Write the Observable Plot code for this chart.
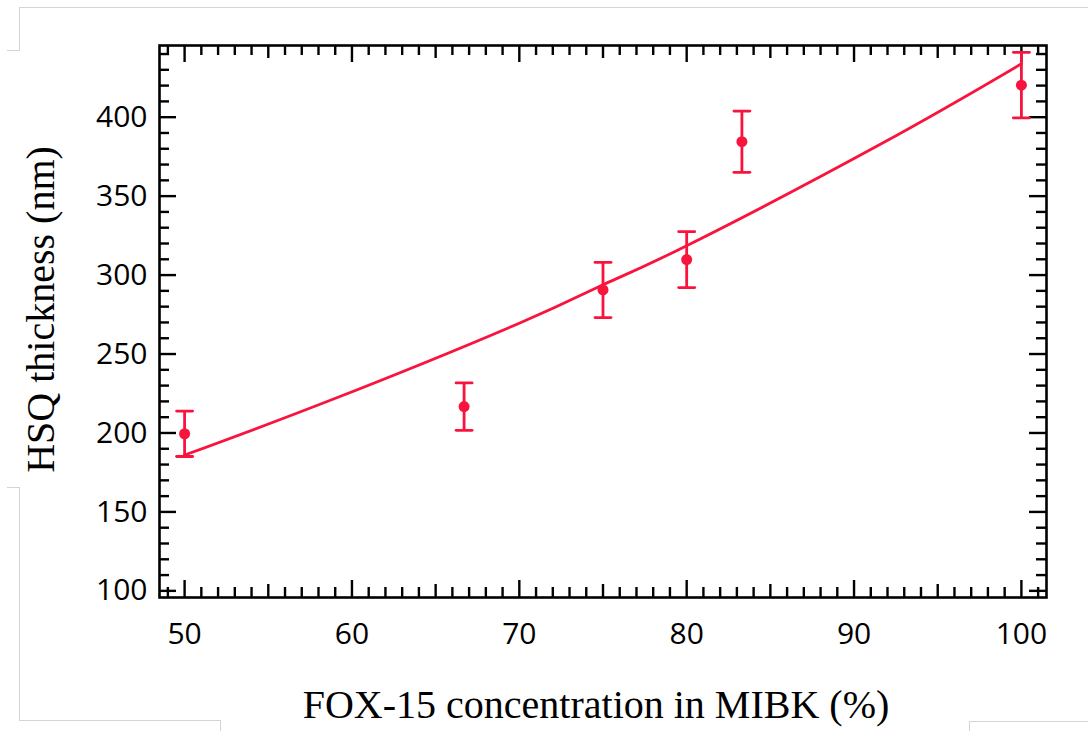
<!DOCTYPE html>
<html>
<head>
<meta charset="utf-8">
<script src="https://cdn.jsdelivr.net/npm/d3@7"></script>
<script src="https://cdn.jsdelivr.net/npm/@observablehq/plot@0.6"></script>
<style>
  html, body { margin: 0; padding: 0; background: #fff; }
  #wrap { position: relative; width: 1088px; height: 731px; overflow: hidden; }
  .edge { position: absolute; background: #d4d4d4; }
</style>
</head>
<body>
<div id="wrap">
  <div class="edge" style="left:19px;top:7px;width:1069px;height:1px"></div>
  <div class="edge" style="left:19px;top:7px;width:1px;height:44px"></div>
  <div class="edge" style="left:7px;top:50px;width:13px;height:1px"></div>
  <div class="edge" style="left:7px;top:487px;width:13px;height:1px"></div>
  <div class="edge" style="left:19px;top:487px;width:1px;height:234px"></div>
  <div class="edge" style="left:19px;top:720px;width:202px;height:1px"></div>
  <div class="edge" style="left:220px;top:720px;width:1px;height:11px"></div>
  <div class="edge" style="left:969px;top:721px;width:119px;height:1px"></div>
  <div class="edge" style="left:969px;top:721px;width:1px;height:10px"></div>
</div>
<script>
// ---- data ----
const concentration = [50, 66.7, 75, 80, 83.3, 100];          // FOX-15 in MIBK (%)
const thickness     = [199.5, 216.7, 290.6, 309.8, 384.5, 420.3]; // HSQ thickness (nm)
const errorNm       = [14.4, 15.0, 17.5, 17.7, 19.4, 20.8];

// fitted curve, points
const fitX = [50, 58.9, 70.1, 75, 80, 91.6, 100];
const fitY = [186, 221.5, 270, 293.9, 318.6, 383, 433.8];

// axis ticks
const xMajor = [50, 60, 70, 80, 90, 100];
const xMid   = [55, 65, 75, 85, 95];
const xMinor = d3.range(49, 102).filter(v => v % 5 !== 0);
const yMajor = [100, 150, 200, 250, 300, 350, 400];
const yMinor = d3.range(110, 450, 10).filter(v => v % 50 !== 0);

const points = concentration.map((c, i) => ({x: c, y: thickness[i], lo: thickness[i] - errorNm[i], hi: thickness[i] + errorNm[i]}));
const fit = fitX.map((x, i) => ({x, y: fitY[i]}));

// ---- layout ----
const W = 1088, H = 731;
const mL = 159, mR = 42, mT = 45, mB = 134;
const innerW = W - mL - mR, innerH = H - mT - mB;
const RED = "#f8143c";
const tickW = 2.4;

const capShape = {draw(context, l) { context.moveTo(0, 0); context.lineTo(0, -l); }};

function xTicks(values, len) {
  return [
    Plot.tickX(values, {x: d => d, insetTop: innerH - len, stroke: "black", strokeWidth: tickW}),
    Plot.tickX(values, {x: d => d, insetBottom: innerH - len, stroke: "black", strokeWidth: tickW})
  ];
}
function yTicks(values, len) {
  return [
    Plot.tickY(values, {y: d => d, insetRight: innerW - len, stroke: "black", strokeWidth: tickW}),
    Plot.tickY(values, {y: d => d, insetLeft: innerW - len, stroke: "black", strokeWidth: tickW})
  ];
}

const chart = Plot.plot({
  width: W, height: H,
  marginLeft: mL, marginRight: mR, marginTop: mT, marginBottom: mB,
  style: {fontFamily: "'Open Sans', sans-serif", fontSize: "30px", color: "black", background: "transparent", overflow: "visible"},
  x: {domain: [48.5, 101.5]},
  y: {domain: [95.8, 445.4]},
  marks: [
    ...xTicks(xMajor, 17), ...xTicks(xMid, 13), ...xTicks(xMinor, 10),
    ...yTicks(yMajor, 17), ...yTicks(yMinor, 10),
    Plot.axisX({ticks: xMajor, tickSize: 0, tickPadding: 25, fontSize: 30, label: null, tickFormat: d => String(d)}),
    Plot.axisY({ticks: yMajor, tickSize: 0, tickPadding: 12, fontSize: 30, label: null, tickFormat: d => String(d)}),
    Plot.line(fit, {x: "x", y: "y", curve: "natural", stroke: RED, strokeWidth: 2.8}),
    Plot.ruleX(points, {x: "x", y1: "lo", y2: "hi", stroke: RED, strokeWidth: 2.8}),
    Plot.vector(points, {x: "x", y: "lo", rotate: 90, length: 16, anchor: "middle", shape: capShape, stroke: RED, strokeWidth: 2.8}),
    Plot.vector(points, {x: "x", y: "hi", rotate: 90, length: 16, anchor: "middle", shape: capShape, stroke: RED, strokeWidth: 2.8}),
    Plot.dot(points, {x: "x", y: "y", r: 5.5, fill: RED, stroke: "none"}),
    Plot.frame({stroke: "black", strokeWidth: 2.6}),
    Plot.text(["FOX-15 concentration in MIBK (%)"], {frameAnchor: "bottom", textAnchor: "middle", dx: -7, dy: 108, lineAnchor: "middle", fontFamily: "'Liberation Serif', 'Times New Roman', serif", fontSize: 40, fill: "black"}),
    Plot.text(["HSQ thickness (nm)"], {frameAnchor: "left", textAnchor: "middle", rotate: -90, dx: -118.5, dy: -12, lineAnchor: "middle", fontFamily: "'Liberation Serif', 'Times New Roman', serif", fontSize: 40, fill: "black"})
  ]
});
chart.style.position = "absolute";
chart.style.left = "0px";
chart.style.top = "0px";
document.getElementById("wrap").appendChild(chart);
</script>
</body>
</html>
